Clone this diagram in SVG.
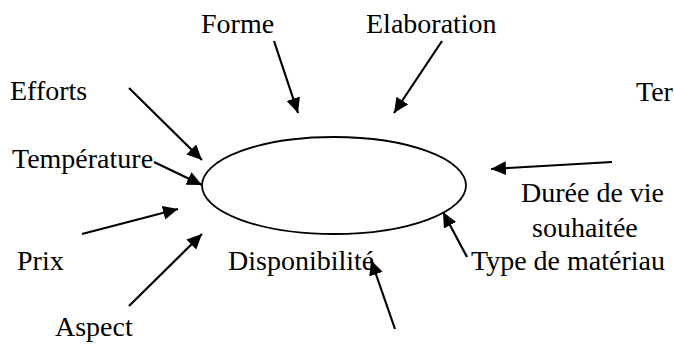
<svg xmlns="http://www.w3.org/2000/svg" width="674" height="347" viewBox="0 0 674 347">
  <style>
    .lbl { font-family: "Liberation Serif", "Times New Roman", serif; font-size: 28px; fill: #000; }
    .arrow { stroke: #000; stroke-width: 2.2; fill: none; marker-end: url(#head); }
    .core { fill: #fff; stroke: #000; stroke-width: 1.8; }
  </style>
  <defs>
    <marker id="head" markerUnits="userSpaceOnUse" markerWidth="16" markerHeight="15" refX="15" refY="7" orient="auto">
      <path d="M0,0 L15,7 L0,14 z" fill="#000"/>
    </marker>
  </defs>
  <rect width="674" height="347" fill="#fff"/>

  <!-- central material node -->
  <g id="materiau">
    <ellipse class="core" cx="334" cy="185.5" rx="132" ry="48.5"/>
  </g>

  <!-- criteria labels -->
  <g id="forme"><text class="lbl" x="201" y="33">Forme</text></g>
  <g id="elaboration"><text class="lbl" x="366" y="33">Elaboration</text></g>
  <g id="efforts"><text class="lbl" x="10" y="100">Efforts</text></g>
  <g id="temperature-droite"><text class="lbl" x="636" y="101">Ter</text></g>
  <g id="temperature"><text class="lbl" x="12" y="168">Température</text></g>
  <g id="duree-de-vie">
    <text class="lbl" x="521" y="202">Durée de vie</text>
    <text class="lbl" x="532" y="237">souhaitée</text>
  </g>
  <g id="prix"><text class="lbl" x="17" y="270">Prix</text></g>
  <g id="disponibilite"><text class="lbl" x="228" y="270">Disponibilité</text></g>
  <g id="type-materiau"><text class="lbl" x="471" y="270">Type de matériau</text></g>
  <g id="aspect"><text class="lbl" x="55" y="336">Aspect</text></g>

  <!-- connectors -->
  <g id="connectors">
    <line class="arrow" x1="274" y1="41" x2="298" y2="113"/>
    <line class="arrow" x1="442" y1="41" x2="394" y2="113"/>
    <line class="arrow" x1="129" y1="88" x2="202" y2="160"/>
    <line class="arrow" x1="154" y1="162" x2="202" y2="185"/>
    <line class="arrow" x1="82" y1="234" x2="178" y2="209"/>
    <line class="arrow" x1="129" y1="306" x2="202" y2="234"/>
    <line class="arrow" x1="395" y1="329" x2="371" y2="260"/>
    <line class="arrow" x1="467" y1="257" x2="443" y2="212"/>
    <line class="arrow" x1="612" y1="162" x2="491" y2="169"/>
  </g>
</svg>
